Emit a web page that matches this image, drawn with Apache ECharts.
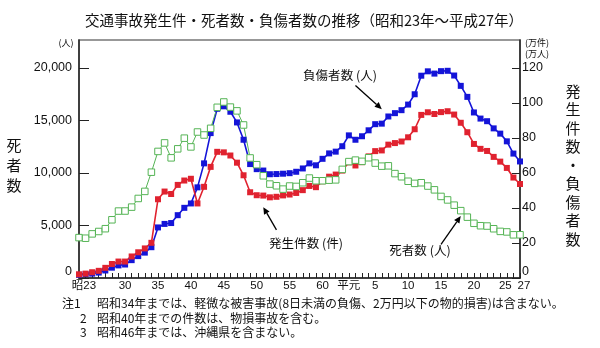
<!DOCTYPE html>
<html><head><meta charset="utf-8">
<script src="https://cdn.jsdelivr.net/npm/echarts@6/dist/echarts.min.js"></script>
<style>html,body{margin:0;padding:0;background:#fff}#c{width:600px;height:348px}</style>
</head><body><div id="c"></div>
<script>
// Categories: 昭和23年(1948) – 平成27年(2015)
const categories = ['昭23','昭24','昭25','昭26','昭27','昭28','昭29','昭30','昭31','昭32','昭33','昭34','昭35','昭36','昭37','昭38','昭39','昭40','昭41','昭42','昭43','昭44','昭45','昭46','昭47','昭48','昭49','昭50','昭51','昭52','昭53','昭54','昭55','昭56','昭57','昭58','昭59','昭60','昭61','昭62','昭63','平元','平2','平3','平4','平5','平6','平7','平8','平9','平10','平11','平12','平13','平14','平15','平16','平17','平18','平19','平20','平21','平22','平23','平24','平25','平26','平27'];
// Labelled ticks on the x axis
const tickCats  = ['昭23','昭30','昭35','昭40','昭45','昭50','昭55','昭60','平元','平5','平10','平15','平20','平25','平27'];
const tickTexts = ['昭23','30','35','40','45','50','55','60','平元','5','10','15','20','25','27'];
// 死者数（人） – left axis
const deaths = [3848,3790,4202,4429,4696,5544,6374,6379,6751,7575,8248,10079,12055,12865,11445,12301,13318,12484,13904,13618,14256,16257,16765,16278,15918,14574,11432,10792,9734,8945,8783,8466,8760,8719,9073,9520,9262,9261,9317,9347,10344,11086,11227,11109,11452,10945,10653,10684,9943,9642,9214,9012,9073,8757,8396,7768,7436,6937,6415,5796,5209,4979,4948,4691,4438,4388,4113,4117];
// 発生件数（万件） – right axis
const accidents = [2.1,2.5,3.3,4.1,5.8,8.0,9.4,9.4,12.3,14.7,16.9,20.1,45.0,49.4,48.0,53.2,55.7,56.7,42.6,52.1,63.5,72.1,71.8,70.0,65.9,58.7,49.0,47.3,47.1,46.1,46.4,47.2,47.7,48.6,50.2,52.6,51.9,55.3,57.9,59.1,61.4,66.1,64.3,66.2,69.5,72.5,72.9,76.2,77.1,78.0,80.4,85.0,93.2,94.7,93.7,94.8,95.3,93.4,88.7,83.3,76.6,73.8,72.6,69.2,66.5,62.9,57.4,53.7];
// 負傷者数（万人） – right axis
const injured = [1.8,2.2,2.5,3.1,4.3,5.9,7.2,7.7,10.2,12.5,14.5,17.6,28.9,30.9,31.4,35.9,40.1,42.6,51.8,65.5,82.8,96.7,98.1,95.0,88.9,79.0,65.1,62.2,61.4,59.3,59.4,59.6,59.9,60.7,62.6,65.5,64.4,68.1,71.2,72.2,75.3,81.5,79.0,81.0,84.4,87.9,88.2,92.3,94.2,95.9,99.1,105.0,115.6,118.1,116.8,118.2,118.4,115.7,109.8,103.5,94.6,91.1,89.6,85.5,82.5,78.1,71.1,66.6];

const FONT = '"Noto Sans CJK JP", "Noto Sans", sans-serif';
const NUMFONT = '"Liberation Sans", "Noto Sans CJK JP", sans-serif';
const chart = echarts.init(document.getElementById('c'), null, {renderer: 'canvas'});
const txt = (x, y, text, extra) => Object.assign({type: 'text', x, y, style: Object.assign({text, font: '12px ' + FONT, fill: '#111'}, extra || {})});

const option = {
  animation: false,
  backgroundColor: '#fff',
  textStyle: {fontFamily: FONT},
  grid: {left: 79, right: 80, top: 40, bottom: 70, show: true, borderColor: '#777', borderWidth: 1.5, backgroundColor: 'transparent'},
  xAxis: {
    type: 'category', data: categories, boundaryGap: false,
    axisLine: {lineStyle: {color: '#222', width: 1.5}},
    axisTick: {interval: 0, inside: true, length: 5, lineStyle: {color: '#222'}},
    axisLabel: {interval: 0, margin: 2, fontSize: 11.5, color: '#111', fontFamily: NUMFONT,
      formatter: v => {
        const i = tickCats.indexOf(v);
        if (i < 0) return '';
        if (v === '平25') return '{a|' + tickTexts[i] + '}';
        if (v === '平27') return '{b|' + tickTexts[i] + '}';
        if (v === '昭23') return '{c|' + tickTexts[i] + '}';
        return tickTexts[i];
      },
      rich: {
        a: {fontSize: 11.5, fontFamily: NUMFONT, padding: [0, 3, 0, 0]},
        b: {fontSize: 11.5, fontFamily: NUMFONT, padding: [0, 0, 0, 8]},
        c: {fontSize: 11.5, fontFamily: NUMFONT, padding: [0, 0, 0, 10]}
      }},
    splitLine: {show: false}
  },
  yAxis: [
    {type: 'value', min: 0, max: 22667, interval: 5000, position: 'left',
     axisLine: {show: true, lineStyle: {color: '#222', width: 1.5}},
     axisTick: {show: true, inside: true, length: 10, lineStyle: {color: '#222'}},
     axisLabel: {showMaxLabel: false, margin: 7, fontSize: 12.5, color: '#111', fontFamily: NUMFONT,
       formatter: v => v === 0 ? '{z|0}' : v.toLocaleString('en-US'),
       rich: {z: {fontSize: 12.5, padding: [0, 0, 12, 0], fontFamily: NUMFONT}}},
     splitLine: {show: false}},
    {type: 'value', min: 0, max: 136, interval: 20, position: 'right',
     axisLine: {show: true, lineStyle: {color: '#222', width: 1.5}},
     axisTick: {show: true, inside: true, length: 8, lineStyle: {color: '#222'}},
     axisLabel: {showMaxLabel: false, margin: 2, fontSize: 12.5, color: '#111', fontFamily: NUMFONT,
       formatter: v => v === 0 ? '{z|0}' : String(v),
       rich: {z: {fontSize: 12.5, padding: [0, 0, 12, 0], fontFamily: NUMFONT}}},
     splitLine: {show: false}}
  ],
  series: [
    {name: '負傷者数', type: 'line', yAxisIndex: 1, data: injured, symbol: 'rect', symbolSize: 6,
     lineStyle: {color: '#1414d8', width: 1.6}, itemStyle: {color: '#1414d8'}},
    {name: '発生件数', type: 'line', yAxisIndex: 1, data: accidents, symbol: 'rect', symbolSize: 6,
     lineStyle: {color: '#e0222f', width: 1.6}, itemStyle: {color: '#e0222f'}},
    {name: '死者数', type: 'line', yAxisIndex: 0, data: deaths, symbol: 'rect', symbolSize: 6.5,
     lineStyle: {color: '#55b455', width: 1}, itemStyle: {color: '#fff', borderColor: '#55b455', borderWidth: 1}}
  ],
  graphic: [
    txt(304, 20, '交通事故発生件・死者数・負傷者数の推移（昭和23年〜平成27年）', {font: '14.5px ' + FONT, align: 'center', verticalAlign: 'middle'}),
    txt(66, 43, '(人)', {font: '9px ' + FONT, align: 'center', verticalAlign: 'middle'}),
    txt(537, 43, '(万件)', {font: '9px ' + FONT, align: 'center', verticalAlign: 'middle'}),
    txt(537, 54, '(万人)', {font: '9px ' + FONT, align: 'center', verticalAlign: 'middle'}),
    txt(14, 165, '死\n者\n数', {font: '15px ' + FONT, align: 'center', verticalAlign: 'middle', lineHeight: 20}),
    txt(573, 165, '発\n生\n件\n数\n・\n負\n傷\n者\n数', {font: '15px ' + FONT, align: 'center', verticalAlign: 'middle', lineHeight: 18.5}),
    txt(340, 75, '負傷者数 (人)', {font: '12.5px ' + FONT, align: 'center', verticalAlign: 'middle'}),
    txt(306, 243, '発生件数 (件)', {font: '12.5px ' + FONT, align: 'center', verticalAlign: 'middle'}),
    txt(420, 250, '死者数 (人)', {font: '12.5px ' + FONT, align: 'center', verticalAlign: 'middle'}),
    txt(62, 303, '注1', {font: '12px ' + FONT, verticalAlign: 'middle'}),
    txt(97, 303, '昭和34年までは、軽微な被害事故(8日未満の負傷、2万円以下の物的損害)は含まない。', {font: '12px ' + FONT, verticalAlign: 'middle'}),
    txt(80, 318, '2', {font: '12px ' + FONT, verticalAlign: 'middle'}),
    txt(97, 318, '昭和40年までの件数は、物損事故を含む。', {font: '12px ' + FONT, verticalAlign: 'middle'}),
    txt(80, 332, '3', {font: '12px ' + FONT, verticalAlign: 'middle'}),
    txt(97, 332, '昭和46年までは、沖縄県を含まない。', {font: '12px ' + FONT, verticalAlign: 'middle'})
  ]
};
chart.setOption(option);

// Arrows anchored in data space (category, value) and converted through the chart's own scales
function arrow(seriesIndex, from, to) {
  const p0 = chart.convertToPixel({seriesIndex}, from);
  const p1 = chart.convertToPixel({seriesIndex}, to);
  const ang = Math.atan2(p1[1] - p0[1], p1[0] - p0[0]);
  const L = 7, W = 3.2;
  const bx = p1[0] - L * Math.cos(ang), by = p1[1] - L * Math.sin(ang);
  const nx = -Math.sin(ang) * W, ny = Math.cos(ang) * W;
  return [
    {type: 'line', shape: {x1: p0[0], y1: p0[1], x2: bx, y2: by}, style: {stroke: '#000', lineWidth: 1.3}},
    {type: 'polygon', shape: {points: [[p1[0], p1[1]], [bx + nx, by + ny], [bx - nx, by - ny]]}, style: {fill: '#000'}}
  ];
}
const arrows = [].concat(
  arrow(0, ['平2', 110], ['平6', 96.5]),
  arrow(1, ['昭53', 27.5], ['昭51', 40.5]),
  arrow(2, ['平15', 3200], ['平18', 5900])
);
chart.setOption({graphic: option.graphic.concat(arrows)});
</script></body></html>
